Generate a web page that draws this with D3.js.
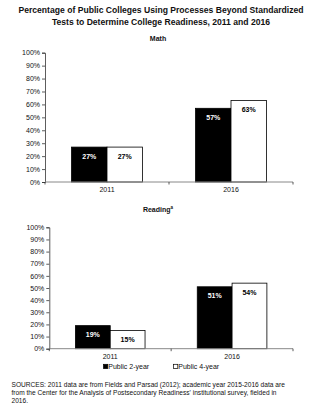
<!DOCTYPE html>
<html><head><meta charset="utf-8">
<script src="https://cdn.jsdelivr.net/npm/d3@7"></script>
<style>body{margin:0;background:#fff}svg{display:block;font-family:"Liberation Sans",Arial,sans-serif}</style>
</head><body><div id="c"></div>
<script>
const years = ["2011", "2016"];
const seriesNames = ["Public 2-year", "Public 4-year"];
const mathTwoYear = [27, 57];
const mathFourYear = [27, 63];
const readingTwoYear = [19, 51];
const readingFourYear = [15, 54];
const yTicks = [0,10,20,30,40,50,60,70,80,90,100];

const W = 329, H = 410;
const svg = d3.select("#c").append("svg").attr("width", W).attr("height", H);

svg.append("text").attr("x", 161).attr("y", 13).attr("text-anchor","middle")
  .attr("font-weight","bold").attr("font-size", 8.6).attr("fill","#111")
  .text("Percentage of Public Colleges Using Processes Beyond Standardized");
svg.append("text").attr("x", 161).attr("y", 24.5).attr("text-anchor","middle")
  .attr("font-weight","bold").attr("font-size", 8.6).attr("fill","#111")
  .text("Tests to Determine College Readiness, 2011 and 2016");

function panel(title, sup, twoY, fourY, x0, x1, yTop, yBot, titleY) {
  const g = svg.append("g");
  const t = g.append("text").attr("x", 158).attr("y", titleY).attr("text-anchor","middle")
    .attr("font-weight","bold").attr("font-size", 7).attr("fill","#111").text(title);
  if (sup) t.append("tspan").attr("font-size", 4.5).attr("dy", -2.8).text(sup);

  const x = d3.scaleBand().domain(years).range([x0, x1]).paddingInner(0).paddingOuter(0);
  const xs = d3.scaleBand().domain(seriesNames).range([0, x.bandwidth()]).paddingInner(0).paddingOuter(0.75);
  const y = d3.scaleLinear().domain([0,100]).range([yBot, yTop]);

  const rows = years.map((yr,i)=>({year: yr, vals:[twoY[i], fourY[i]]}));
  const grp = g.selectAll("g.cat").data(rows).join("g").attr("transform", d=>`translate(${x(d.year)},0)`);
  grp.selectAll("rect").data(d=>d.vals.map((v,j)=>({v, s: seriesNames[j], j})))
    .join("rect").attr("x", d=>xs(d.s)).attr("width", xs.bandwidth())
    .attr("y", d=>y(d.v)).attr("height", d=>y(0)-y(d.v))
    .attr("fill", d=>d.j===0?"#000":"#fff").attr("stroke","#000").attr("stroke-width",0.8);
  grp.selectAll("text").data(d=>d.vals.map((v,j)=>({v, s: seriesNames[j], j})))
    .join("text").attr("x", d=>xs(d.s)+xs.bandwidth()/2).attr("y", d=>y(d.v)+11.5)
    .attr("text-anchor","middle").attr("font-weight","bold").attr("font-size",7)
    .attr("fill", d=>d.j===0?"#fff":"#000").text(d=>d.v+"%");

  const ya = g.append("g").attr("transform",`translate(${x0},0)`)
    .call(d3.axisLeft(y).tickValues(yTicks).tickFormat(d=>d+"%").tickSize(3).tickPadding(2));
  ya.select(".domain").attr("stroke","#333").attr("stroke-width",0.8);
  ya.selectAll(".tick line").attr("stroke","#333").attr("stroke-width",0.8);
  ya.selectAll("text").attr("font-size",7).attr("fill","#111").attr("font-family","Liberation Sans, Arial, sans-serif");

  const xa = g.append("g").attr("transform",`translate(0,${yBot})`)
    .call(d3.axisBottom(x).tickSize(0).tickPadding(5));
  xa.select(".domain").remove();
  g.append("line").attr("x1",x0).attr("x2",x1).attr("y1",yBot).attr("y2",yBot).attr("stroke","#888").attr("stroke-width",1);
  [x0, x(years[1]), x1].forEach(v=>g.append("line").attr("x1",v).attr("x2",v).attr("y1",yBot).attr("y2",yBot+2.5).attr("stroke","#333").attr("stroke-width",0.8));
  xa.selectAll("text").attr("font-size",7).attr("fill","#111").attr("font-family","Liberation Sans, Arial, sans-serif");
}

panel("Math", null, mathTwoYear, mathFourYear, 45, 293, 52.7, 182, 40.5);
panel("Reading", "a", readingTwoYear, readingFourYear, 49.3, 293, 227.3, 348.7, 211.5);

// legend
const leg = svg.append("g");
const lx = [103.5, 173.5];
seriesNames.forEach((s,i)=>{
  leg.append("rect").attr("x", lx[i]).attr("y", 364.3).attr("width",4.3).attr("height",4.3)
    .attr("fill", i===0?"#000":"#fff").attr("stroke","#000").attr("stroke-width",0.7);
  leg.append("text").attr("x", lx[i]+4.8).attr("y", 369).attr("font-size",7).attr("fill","#111").text(s);
});

const src = ["SOURCES: 2011 data are from Fields and Parsad (2012); academic year 2015-2016 data are",
  "from the Center for the Analysis of Postsecondary Readiness' institutional survey, fielded in",
  "2016."];
src.forEach((l,i)=>svg.append("text").attr("x",11.5).attr("y",386.5+i*8).attr("font-size",6.6).attr("fill","#111").text(l));
</script></body></html>
